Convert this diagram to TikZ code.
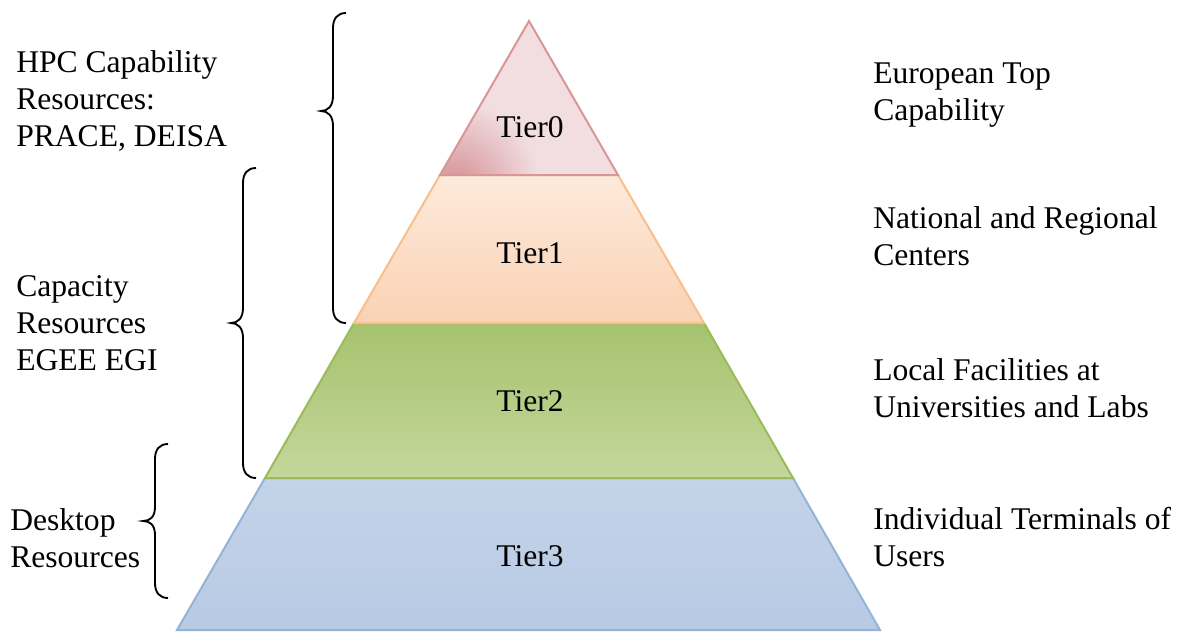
\documentclass[tikz,border=0pt]{standalone}
\usepackage{fontspec}
\setmainfont{Liberation Serif}
\definecolor{tzlight}{RGB}{242,222,225}
\definecolor{tzdark}{RGB}{212,145,150}
\definecolor{tzedge}{RGB}{218,150,150}
\definecolor{tatop}{RGB}{253,234,219}
\definecolor{tabot}{RGB}{250,210,180}
\definecolor{taedge}{RGB}{248,190,140}
\definecolor{tbtop}{RGB}{166,194,110}
\definecolor{tbbot}{RGB}{196,215,156}
\definecolor{tbedge}{RGB}{155,187,89}
\definecolor{tctop}{RGB}{195,211,232}
\definecolor{tcbot}{RGB}{184,202,228}
\definecolor{tcedge}{RGB}{149,179,215}
\tikzset{
  lbl/.style={font=\fontsize{23.7}{27.75}\selectfont, inner sep=0pt, align=left, anchor=base west},
  tierlbl/.style={font=\fontsize{23.7}{27.75}\selectfont, inner sep=0pt, anchor=base},
  bracepath/.style={draw=black, line width=1.4pt},
  layer/.style={line width=1.5pt, line join=miter}
}
\begin{document}
\begin{tikzpicture}[x=0.75pt,y=-0.75pt]
\useasboundingbox (0,0) rectangle (1186,632);
% Tier3
\shade[top color=tctop, bottom color=tcbot] (265,478) -- (793,478) -- (880,630) -- (177,630) -- cycle;
\draw[layer, draw=tcedge] (265,478) -- (793,478) -- (880,630) -- (177,630) -- cycle;
% Tier2
\shade[top color=tbtop, bottom color=tbbot] (354,323) -- (704,323) -- (793,478) -- (265,478) -- cycle;
\draw[layer, draw=tbedge] (354,323) -- (704,323) -- (793,478) -- (265,478) -- cycle;
% Tier1
\shade[top color=tatop, bottom color=tabot] (440,175) -- (618,175) -- (704,323) -- (354,323) -- cycle;
\draw[layer, draw=taedge] (440,175) -- (618,175) -- (704,323) -- (354,323) -- cycle;
% Tier0
\fill[tzlight] (529,21) -- (618,175) -- (440,175) -- cycle;
\begin{scope}
  \clip (529,21) -- (618,175) -- (440,175) -- cycle;
  \shade[inner color=tzdark, outer color=tzlight] (455,185) circle (85);
\end{scope}
\draw[layer, draw=tzedge] (529,21) -- (618,175) -- (440,175) -- cycle;
% tier labels
\node[tierlbl] (t0) at (530,137) {Tier0};
\node[tierlbl] (t1) at (530,263) {Tier1};
\node[tierlbl] (t2) at (530,411) {Tier2};
\node[tierlbl] (t3) at (530,566) {Tier3};
% braces
\draw[bracepath] (346,13) .. controls (338,13) and (333,18) .. (333,28) -- (333,96) .. controls (333,106) and (328,111) .. (321,111) .. controls (328,111) and (333,116) .. (333,126) -- (333,308) .. controls (333,318) and (338,323) .. (346,323);
\draw[bracepath] (256,168) .. controls (248,168) and (243,173) .. (243,183) -- (243,308) .. controls (243,318) and (238,323) .. (231,323) .. controls (238,323) and (243,328) .. (243,338) -- (243,463) .. controls (243,473) and (248,478) .. (256,478);
\draw[bracepath] (168,444) .. controls (160,444) and (155,449) .. (155,459) -- (155,507) .. controls (155,517) and (150,521) .. (143,521) .. controls (150,521) and (155,525) .. (155,535) -- (155,583) .. controls (155,593) and (160,598) .. (168,598);
% left labels (anchor at last line baseline)
\node[lbl] (hpc) at (16,146) {HPC Capability\\Resources:\\PRACE, DEISA};
\node[lbl] (cap) at (16,370) {Capacity\\Resources\\EGEE EGI};
\node[lbl] (desk) at (10,567) {Desktop\\Resources};
% right labels
\node[lbl] (r0) at (873,120) {European Top\\Capability};
\node[lbl] (r1) at (873,265) {National and Regional\\Centers};
\node[lbl] (r2) at (873,417) {Local Facilities at\\Universities and Labs};
\node[lbl] (r3) at (873,566) {Individual Terminals of\\Users};
\end{tikzpicture}
\end{document}
